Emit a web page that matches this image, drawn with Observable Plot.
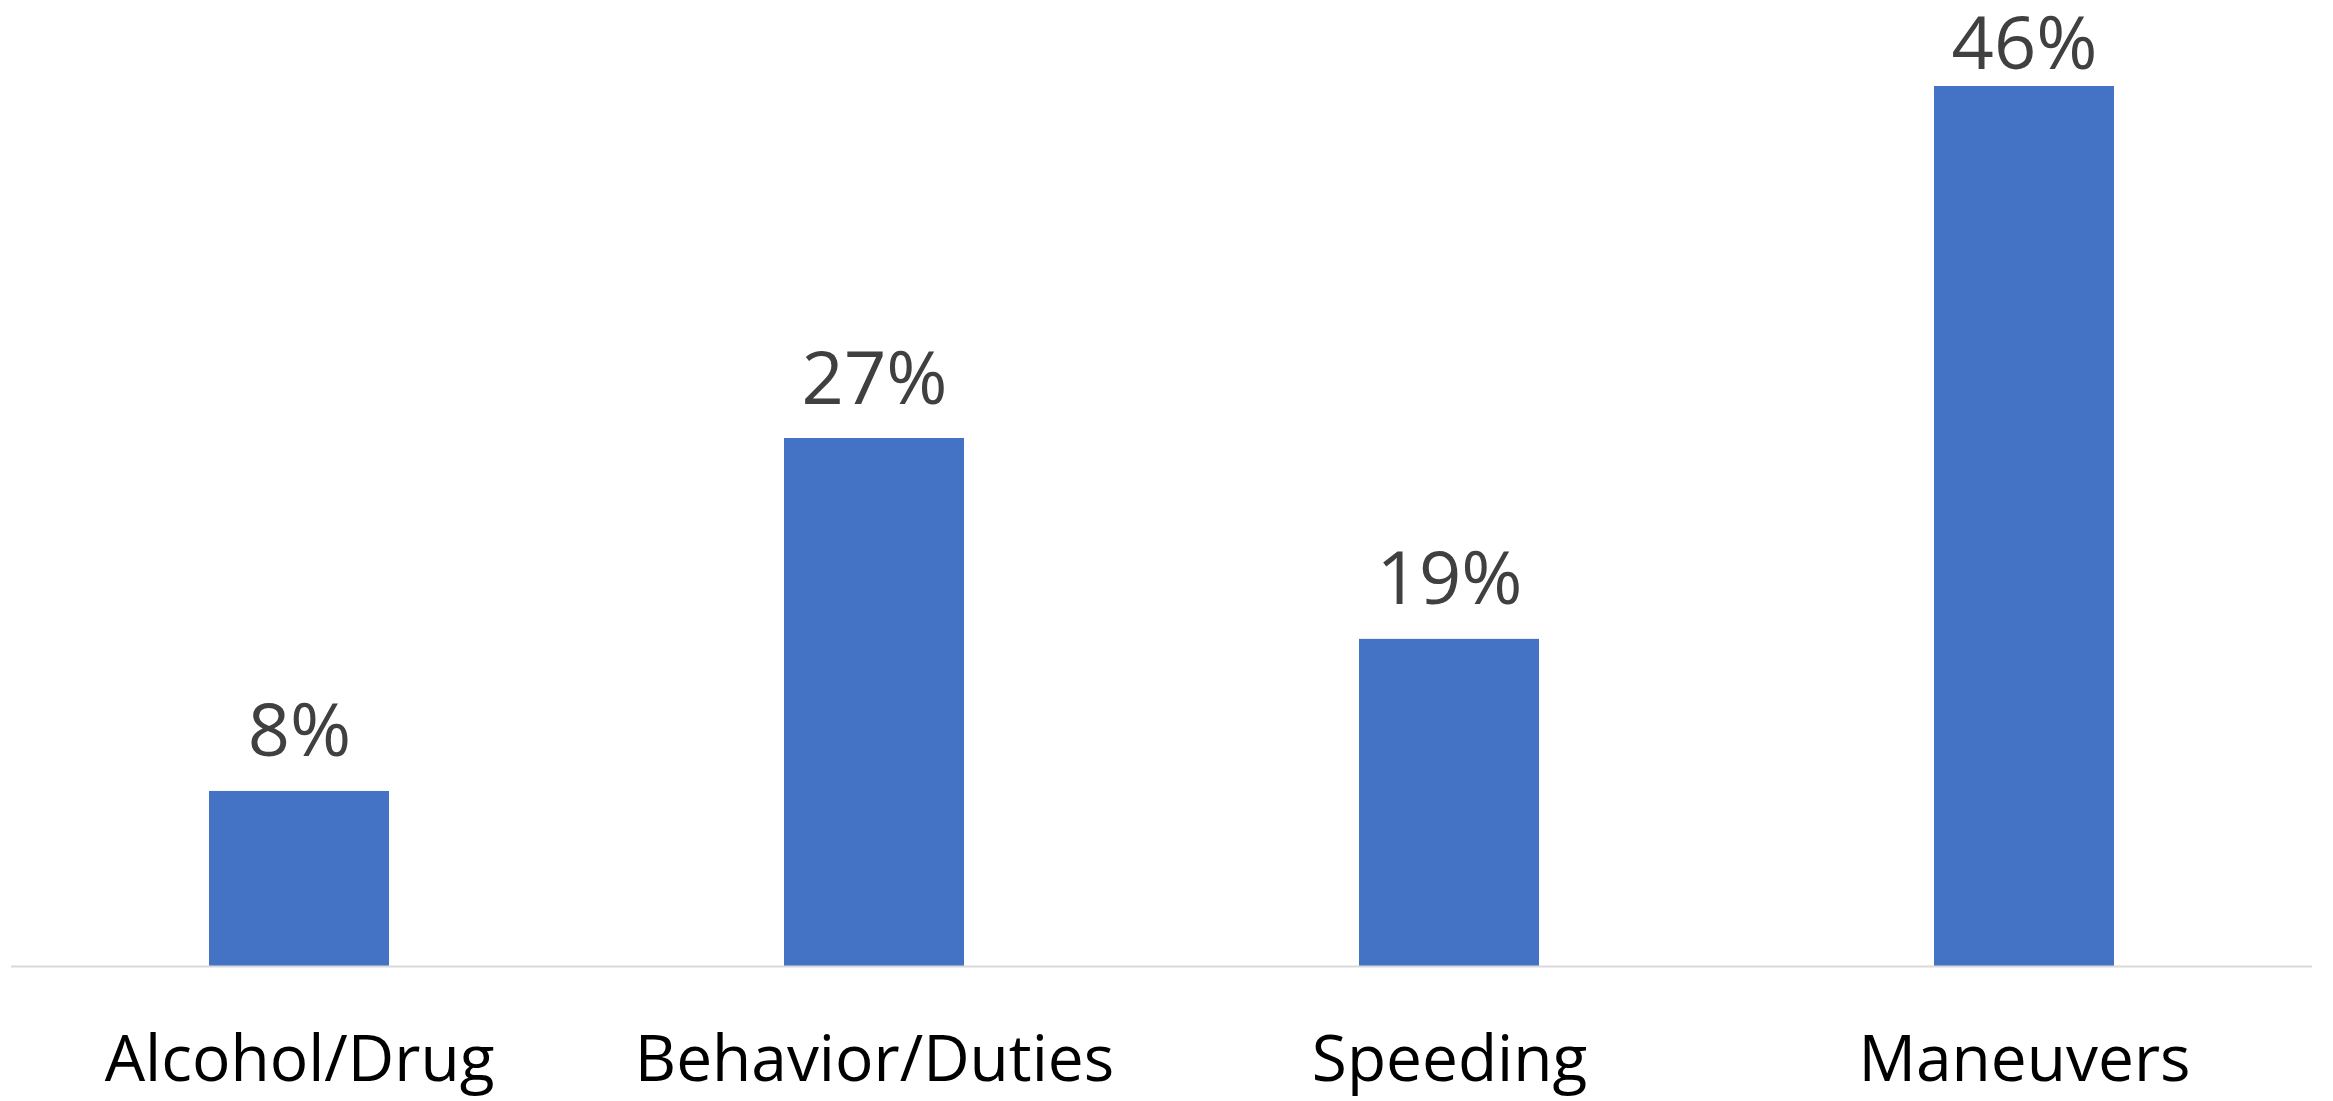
<!DOCTYPE html>
<html>
<head>
<meta charset="utf-8">
<script src="https://cdn.jsdelivr.net/npm/d3@7"></script>
<script src="https://cdn.jsdelivr.net/npm/@observablehq/plot@0.6"></script>
<style>
  html, body { margin: 0; padding: 0; background: #ffffff; }
  #chart svg { display: block; }
</style>
</head>
<body>
<div id="chart"></div>
<script>
const categories = ["Alcohol/Drug", "Behavior/Duties", "Speeding", "Maneuvers"];
const values = [9.15, 27.6, 17.1, 46];
const labels = ["8%", "27%", "19%", "46%"];

const data = categories.map((c, i) => ({ category: c, value: values[i], label: labels[i] }));
const maxValue = d3.max(values);

const chart = Plot.plot({
  width: 2333,
  height: 1101,
  marginTop: 86,
  marginBottom: 135,
  marginLeft: 11,
  marginRight: 21,
  style: { fontFamily: "'Open Sans', sans-serif", background: "#ffffff" },
  x: { domain: categories, paddingInner: 0.687, paddingOuter: 0.3435 },
  y: { domain: [0, maxValue], axis: null },
  marks: [
    Plot.barY(data, { x: "category", y: "value", fill: "#4472C4" }),
    Plot.ruleY([0], { stroke: "#D9D9D9", strokeWidth: 2 }),
    Plot.text(data.filter(d => d.value < maxValue), {
      x: "category", y: "value", text: "label",
      dy: -35, lineAnchor: "bottom", fontSize: 74, fill: "#404040"
    }),
    Plot.text(data.filter(d => d.value === maxValue), {
      x: "category", y: "value", text: "label",
      dy: -18, lineAnchor: "bottom", fontSize: 74, fill: "#404040"
    }),
    Plot.axisX({ tickSize: 0, tickPadding: 69, fontSize: 64, color: "#000000", label: null })
  ]
});
document.getElementById("chart").appendChild(chart);
</script>
</body>
</html>
